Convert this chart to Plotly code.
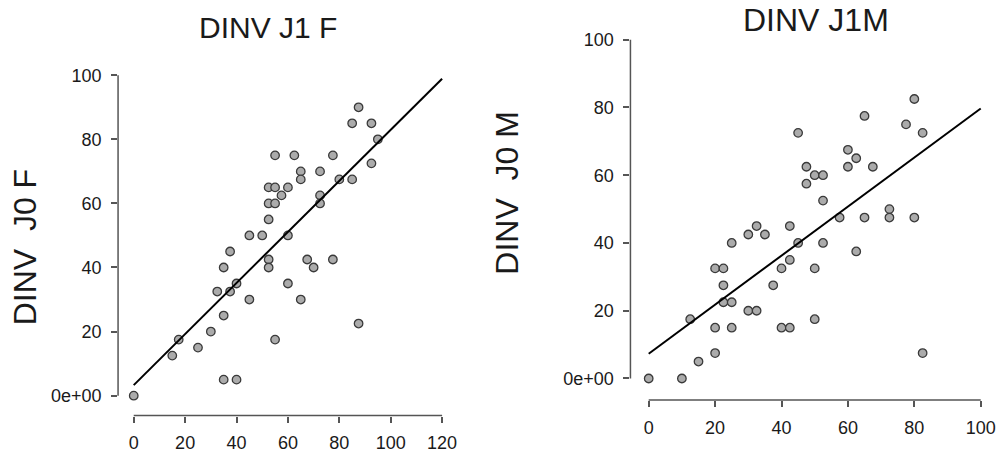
import plotly.graph_objects as go

W, H = 1002, 453

# ---- data: panel 1 (DINV J1 F vs DINV J0 F)
f_x = [0, 15, 17.5, 25, 30, 35, 35, 40, 32.5, 37.5, 40, 35, 37.5, 45, 45, 50,
       52.5, 52.5, 52.5, 52.5, 55, 52.5, 55, 55, 55, 57.5, 60, 60, 60, 62.5,
       65, 65, 65, 67.5, 70, 72.5, 72.5, 72.5, 77.5, 77.5, 80, 85, 85, 87.5,
       87.5, 92.5, 92.5, 95]
f_y = [0, 12.5, 17.5, 15, 20, 25, 5, 5, 32.5, 32.5, 35, 40, 45, 30, 50, 50,
       42.5, 40, 55, 60, 60, 65, 65, 75, 17.5, 62.5, 65, 50, 35, 75,
       70, 67.5, 30, 42.5, 40, 70, 62.5, 60, 75, 42.5, 67.5, 67.5, 85, 90,
       22.5, 85, 72.5, 80]
f_line_x = [0, 120]
f_line_y = [3.3, 98.9]

# ---- data: panel 2 (DINV J1M vs DINV J0 M)
m_x = [0, 10, 15, 12.5, 20, 20, 25, 20, 22.5, 22.5, 22.5, 25, 25, 30, 32.5,
       30, 32.5, 35, 37.5, 40, 42.5, 40, 42.5, 42.5, 45, 45, 47.5, 47.5, 50,
       52.5, 52.5, 52.5, 50, 50, 57.5, 60, 60, 62.5, 62.5, 65, 65, 67.5, 72.5,
       72.5, 77.5, 80, 80, 82.5, 82.5]
m_y = [0, 0, 5, 17.5, 7.5, 15, 15, 32.5, 32.5, 27.5, 22.5, 22.5, 40, 20, 20,
       42.5, 45, 42.5, 27.5, 15, 15, 32.5, 35, 45, 40, 72.5, 62.5, 57.5, 60,
       60, 52.5, 40, 32.5, 17.5, 47.5, 67.5, 62.5, 65, 37.5, 77.5, 47.5, 62.5, 50,
       47.5, 75, 82.5, 47.5, 72.5, 7.5]
m_line_x = [0, 100]
m_line_y = [7.3, 79.7]

# ---- ticks / labels
f_xticks = [0, 20, 40, 60, 80, 100, 120]
m_xticks = [0, 20, 40, 60, 80, 100]
y_ticks = [0, 20, 40, 60, 80, 100]
y_ticklabels = ["0e+00", "20", "40", "60", "80", "100"]
titles = ["DINV J1 F", "DINV J1M"]
ylabels = ["DINV  J0 F", "DINV  J0 M"]

FONT = "Liberation Sans, Arial, sans-serif"
AXC = "#555555"
TXT = "#1a1a1a"

# panel geometry in page pixels (left, right, top, bottom) and axis ranges
P1 = dict(l=118.3, r=455.6, t=56.4, b=418.3, xr=[-6.1, 124.9], yr=[-6.2, 106])
P2 = dict(l=631.7, r=996.0, t=19.5, b=402.7, xr=[-5.5, 104.0], yr=[-6.36, 106])


def dx(p):
    return [p["l"] / W, p["r"] / W]


def dy(p):
    return [(H - p["b"]) / H, (H - p["t"]) / H]


marker = dict(size=8.5, color="#ababab", line=dict(color="#3a3a3a", width=1.3))

fig = go.Figure()
fig.add_trace(go.Scatter(x=f_x, y=f_y, mode="markers", marker=marker,
                         xaxis="x", yaxis="y", showlegend=False))
fig.add_trace(go.Scatter(x=f_line_x, y=f_line_y, mode="lines",
                         line=dict(color="black", width=2),
                         xaxis="x", yaxis="y", showlegend=False))
fig.add_trace(go.Scatter(x=m_x, y=m_y, mode="markers", marker=marker,
                         xaxis="x2", yaxis="y2", showlegend=False))
fig.add_trace(go.Scatter(x=m_line_x, y=m_line_y, mode="lines",
                         line=dict(color="black", width=2),
                         xaxis="x2", yaxis="y2", showlegend=False))

common = dict(showgrid=False, zeroline=False, showline=False, ticks="outside",
              ticklen=6, tickwidth=1.5, tickcolor=AXC,
              tickfont=dict(family=FONT, size=18, color=TXT))

fig.update_layout(
    width=W, height=H,
    margin=dict(l=0, r=0, t=0, b=0),
    paper_bgcolor="white", plot_bgcolor="white",
    xaxis=dict(domain=dx(P1), range=P1["xr"], anchor="y",
               tickvals=f_xticks, ticklabelstandoff=5, **common),
    yaxis=dict(domain=dy(P1), range=P1["yr"], anchor="x",
               tickvals=y_ticks, ticktext=y_ticklabels, ticklabelstandoff=6,
               **common),
    xaxis2=dict(domain=dx(P2), range=P2["xr"], anchor="y2",
                tickvals=m_xticks, ticklabelstandoff=5, **common),
    yaxis2=dict(domain=dy(P2), range=P2["yr"], anchor="x2",
                tickvals=y_ticks, ticktext=y_ticklabels, ticklabelstandoff=6,
                **common),
)

# R-style axis lines spanning the tick range only
for p, xr, yr, xmax in [(P1, "x", "y", f_xticks[-1]), (P2, "x2", "y2", m_xticks[-1])]:
    fig.add_shape(type="line", xref="paper", yref=yr,
                  x0=p["l"] / W, x1=p["l"] / W,
                  y0=y_ticks[0], y1=y_ticks[-1], line=dict(color=AXC, width=1.5))
    fig.add_shape(type="line", xref=xr, yref="paper", x0=0, x1=xmax,
                  y0=(H - p["b"]) / H, y1=(H - p["b"]) / H,
                  line=dict(color=AXC, width=1.5))

# titles and y labels
for txt, px, py, fs in [(titles[0], 269, 28, 30), (titles[1], 818, 20, 32)]:
    fig.add_annotation(text=txt, x=px / W, y=(H - py) / H, xref="paper",
                       yref="paper", showarrow=False, xanchor="center",
                       yanchor="middle", font=dict(family=FONT, size=fs, color=TXT))
for txt, px, py in [(ylabels[0], 25, 249), (ylabels[1], 508, 194)]:
    fig.add_annotation(text=txt, x=px / W, y=(H - py) / H, xref="paper",
                       yref="paper", showarrow=False, xanchor="center",
                       yanchor="middle", textangle=-90,
                       font=dict(family=FONT, size=32, color=TXT))

fig.write_html("out.html", post_script="document.body.style.margin='0';",
               config={"displayModeBar": False})
